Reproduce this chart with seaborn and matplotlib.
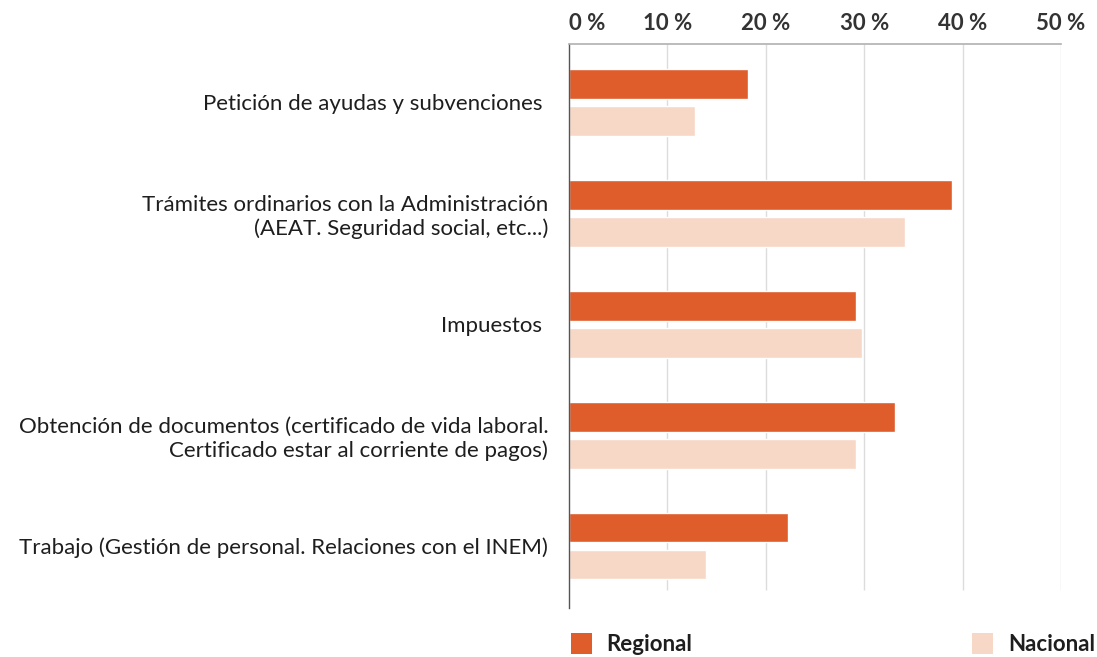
import numpy as np
import pandas as pd
import matplotlib.pyplot as plt
import seaborn as sns
from matplotlib.patches import Patch

categories = [
    "Petición de ayudas y subvenciones ",
    "Trámites ordinarios con la Administración\n(AEAT. Seguridad social, etc...)",
    "Impuestos ",
    "Obtención de documentos (certificado de vida laboral.\nCertificado estar al corriente de pagos)",
    "Trabajo (Gestión de personal. Relaciones con el INEM)",
]
regional = [18.2, 38.9, 29.2, 33.1, 22.3]
nacional = [12.8, 34.1, 29.8, 29.2, 13.9]
series = ["Regional", "Nacional"]
x_ticks = [0, 10, 20, 30, 40, 50]
x_tick_labels = ["0 %", "10 %", "20 %", "30 %", "40 %", "50 %"]

colors = {"Regional": "#DF5C2B", "Nacional": "#F7D8C7"}
_FONT_SIZE = 16
_TEXT_COLOR = "#1e1e1e"

sns.set_theme(style="white")
plt.rcParams["font.family"] = ["Lato", "DejaVu Sans"]

df = pd.DataFrame(
    {
        "Categoria": categories * 2,
        "Valor": regional + nacional,
        "Serie": ["Regional"] * len(categories) + ["Nacional"] * len(categories),
    }
)

fig = plt.figure(figsize=(10.97, 6.57), dpi=100)
ax = fig.add_axes([0.5187, 0.0746, 0.4485, 0.8584])

sns.barplot(
    data=df,
    x="Valor",
    y="Categoria",
    hue="Serie",
    hue_order=series,
    order=categories,
    palette=colors,
    orient="h",
    width=0.667,
    gap=0.19,
    saturation=1,
    legend=False,
    ax=ax,
)

ax.set_xlim(0, 50)
ax.set_ylim(4.559, -0.527)

# vertical gridlines stop a bit above the bottom of the left axis line
ax.vlines(x_ticks[1:], -0.527, 4.4, color="#dcdcdc", linewidth=1, zorder=0)
ax.set_axisbelow(True)

ax.xaxis.tick_top()
ax.set_xticks(x_ticks)
ax.set_xticklabels(x_tick_labels)
ax.tick_params(axis="x", length=0, pad=7, labelsize=_FONT_SIZE, labelcolor="#333333")
for lbl in ax.get_xticklabels():
    lbl.set_fontweight("bold")
ax.get_xticklabels()[0].set_horizontalalignment("left")

ax.tick_params(axis="y", length=0, pad=15, labelsize=_FONT_SIZE, labelcolor=_TEXT_COLOR)
ax.set_xlabel("")
ax.set_ylabel("")

sns.despine(ax=ax, top=False, right=True, bottom=True, left=False)
ax.spines["top"].set_color("#b0b0b0")
ax.spines["top"].set_linewidth(1.2)
ax.spines["left"].set_color("#555555")
ax.spines["left"].set_linewidth(1.0)

legend_kw = dict(
    frameon=False,
    handlelength=0.95,
    handleheight=1.05,
    handletextpad=0.65,
    borderaxespad=0,
    borderpad=0,
    prop={"size": _FONT_SIZE, "weight": "bold"},
    labelcolor=_TEXT_COLOR,
)
fig.legend(
    handles=[Patch(facecolor=colors["Regional"], edgecolor="none", label="Regional")],
    loc="lower left",
    bbox_to_anchor=(0.5205, 0.003),
    **legend_kw,
)
fig.legend(
    handles=[Patch(facecolor=colors["Nacional"], edgecolor="none", label="Nacional")],
    loc="lower right",
    bbox_to_anchor=(0.998, 0.003),
    **legend_kw,
)

fig.savefig("out.png", dpi=100)
